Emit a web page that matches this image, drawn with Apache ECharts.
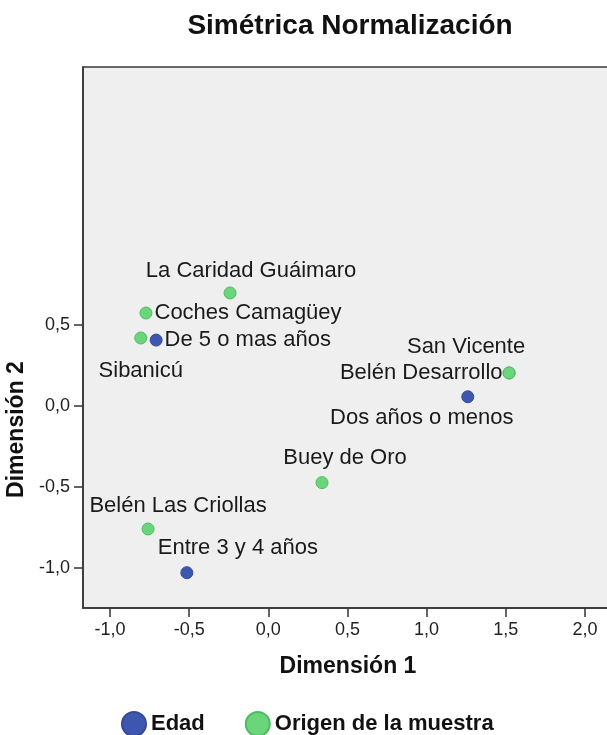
<!DOCTYPE html>
<html>
<head>
<meta charset="utf-8">
<script src="https://cdn.jsdelivr.net/npm/echarts@6/dist/echarts.min.js"></script>
<style>
  html, body { margin: 0; padding: 0; background: #fff; }
  #chart { width: 607px; height: 735px; }
</style>
</head>
<body>
<div id="chart"></div>
<script>
// values
let edad_names = ['De 5 o mas años', 'Dos años o menos', 'Entre 3 y 4 años']
let edad_x = [-0.709, 1.26, -0.515]
let edad_y = [0.407, 0.057, -1.029]

let origen_names = ['La Caridad Guáimaro', 'Coches Camagüey', 'Sibanicú', 'San Vicente',
    'Belén Desarrollo', 'Buey de Oro', 'Belén Las Criollas']
let origen_x = [-0.242, -0.773, -0.806, 1.521, 1.521, 0.339, -0.76]
let origen_y = [0.698, 0.574, 0.42, 0.204, 0.204, -0.473, -0.759]

let tick_values = [-1, -0.5, 0, 0.5, 1, 1.5, 2]
let y_tick_values = [-1, -0.5, 0, 0.5]

// where each label sits around its point
let label_place = {
    'De 5 o mas años': { position: 'right', distance: 2 },
    'Dos años o menos': { position: 'bottom', offset: [-46, -1] },
    'Entre 3 y 4 años': { position: 'top', offset: [51, -2] },
    'La Caridad Guáimaro': { position: 'top', offset: [21, 0] },
    'Coches Camagüey': { position: 'right', distance: 2 },
    'Sibanicú': { position: 'bottom', offset: [0, 10] },
    'San Vicente': { position: 'top', offset: [-43, -4] },
    'Belén Desarrollo': { position: 'left', distance: 0 },
    'Buey de Oro': { position: 'top', offset: [23, -2] },
    'Belén Las Criollas': { position: 'top', offset: [30, -1] }
}

function build_points(names, xs, ys) {
    let out = []
    for (let i = 0; i < names.length; i++) {
        out.push({
            name: names[i],
            value: [xs[i], ys[i]],
            label: label_place[names[i]]
        })
    }
    return out
}

let font = 'Liberation Sans, Arial, sans-serif'
let chart = echarts.init(document.getElementById('chart'))

let option = {
    animation: false,
    backgroundColor: '#ffffff',
    title: {
        text: 'Simétrica Normalización',
        left: 345,
        top: 7,
        textAlign: 'center',
        textStyle: { fontFamily: font, fontSize: 28, fontWeight: 'bold', color: '#111' }
    },
    legend: {
        left: 121,
        top: 711,
        padding: 0,
        itemWidth: 24,
        itemHeight: 24,
        itemGap: 40,
        icon: 'circle',
        data: ['Edad', 'Origen de la muestra'],
        textStyle: { fontFamily: font, fontSize: 22, fontWeight: 'bold', color: '#111' }
    },
    grid: {
        left: 83,
        top: 67,
        right: -20,
        bottom: 127,
        outerBoundsMode: 'none',
        containLabel: false,
        show: true,
        backgroundColor: '#efefef',
        borderColor: '#3a3a3a',
        borderWidth: 1.5
    },
    xAxis: {
        type: 'value',
        min: -1.171,
        max: 2.266,
        name: 'Dimensión 1',
        nameLocation: 'middle',
        nameGap: 47,
        nameTextStyle: { fontFamily: font, fontSize: 23, fontWeight: 'bold', color: '#111', padding: [0, 14, 0, 0] },
        axisLine: { show: true, onZero: false, lineStyle: { color: '#333', width: 1.5 } },
        axisTick: { show: true, length: 9, lineStyle: { color: '#333', width: 1.5 }, customValues: tick_values },
        axisLabel: {
            margin: 13,
            fontFamily: font, fontSize: 18, color: '#222',
            customValues: tick_values,
            formatter: function (v) { return v.toFixed(1).replace('.', ',') }
        },
        splitLine: { show: false }
    },
    yAxis: {
        type: 'value',
        min: -1.247,
        max: 2.093,
        name: 'Dimensión 2',
        nameLocation: 'middle',
        nameGap: 52,
        nameTextStyle: { fontFamily: font, fontSize: 23, fontWeight: 'bold', color: '#111', padding: [0, 184, 0, 0] },
        axisLine: { show: true, onZero: false, lineStyle: { color: '#333', width: 1.5 } },
        axisTick: { show: true, length: 9, lineStyle: { color: '#333', width: 1.5 }, customValues: y_tick_values },
        axisLabel: {
            margin: 13,
            fontFamily: font, fontSize: 18, color: '#222',
            customValues: y_tick_values,
            formatter: function (v) { return v.toFixed(1).replace('.', ',') }
        },
        splitLine: { show: false }
    },
    series: [
        {
            name: 'Edad',
            type: 'scatter',
            symbolSize: 12,
            itemStyle: { color: '#3d57b0', borderColor: '#34499a', borderWidth: 1, opacity: 1 },
            label: {
                show: true,
                formatter: '{b}',
                fontFamily: font, fontSize: 22, color: '#1a1a1a'
            },
            data: build_points(edad_names, edad_x, edad_y)
        },
        {
            name: 'Origen de la muestra',
            type: 'scatter',
            symbolSize: 12,
            itemStyle: { color: '#6bd57b', borderColor: '#4cbd5e', borderWidth: 1, opacity: 1 },
            label: {
                show: true,
                formatter: '{b}',
                fontFamily: font, fontSize: 22, color: '#1a1a1a'
            },
            data: build_points(origen_names, origen_x, origen_y)
        }
    ]
}
chart.setOption(option)
</script>
</body>
</html>
